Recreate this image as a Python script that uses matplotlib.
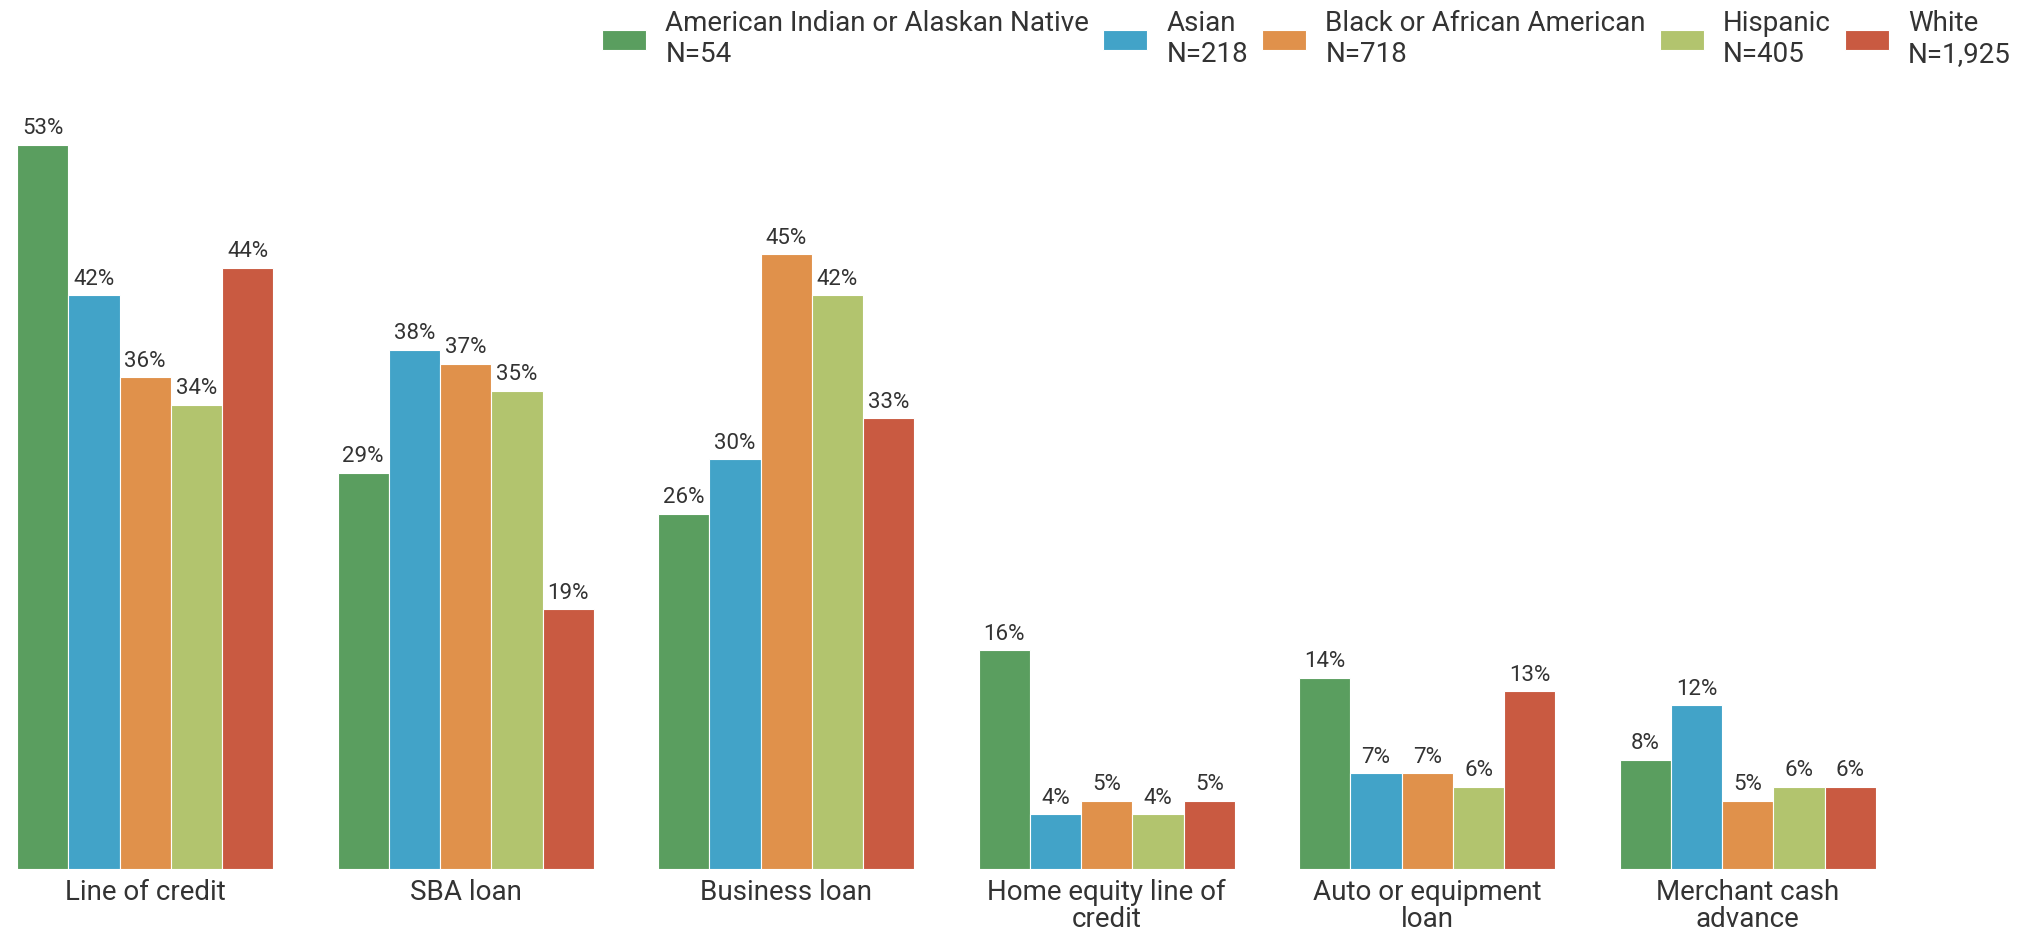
import numpy as np
import matplotlib
matplotlib.use("Agg")
import matplotlib.pyplot as plt

categories = ["Line of credit", "SBA loan", "Business loan",
              "Home equity line of\ncredit", "Auto or equipment\nloan",
              "Merchant cash\nadvance"]
groups = ["American Indian or Alaskan Native\nN=54", "Asian\nN=218",
          "Black or African American\nN=718", "Hispanic\nN=405",
          "White\nN=1,925"]
values = [
    [53, 29, 26, 16, 14, 8],   # American Indian or Alaskan Native
    [42, 38, 30, 4, 7, 12],    # Asian
    [36, 37, 45, 5, 7, 5],     # Black or African American
    [34, 35, 42, 4, 6, 6],     # Hispanic
    [44, 19, 33, 5, 13, 6],    # White
]
colors = ["#5a9e5f", "#42a3c8", "#e0914b", "#b2c46e", "#c95a41"]

plt.rcParams['font.family'] = ['Roboto', 'DejaVu Sans']
text_color = "#333333"

fig = plt.figure(figsize=(20.36, 9.34), dpi=100)
ax = fig.add_axes([17 / 2036, 65 / 934, 1859 / 2036, 724 / 934])

x = np.arange(len(categories))
w = 0.16
for i, (g, vals, c) in enumerate(zip(groups, values, colors)):
    bars = ax.bar(x + (i - 2) * w, vals, w, color=c, edgecolor="white",
                  linewidth=0.8, label=g)
    ax.bar_label(bars, labels=[f"{v}%" for v in vals], padding=4,
                 fontsize=16, color=text_color)

ax.set_xlim(-0.4, 5.4)
ax.set_ylim(0, 53)
ax.set_xticks(x)
ax.set_xticklabels(categories, fontsize=20, color=text_color,
                   linespacing=1.0)
ax.tick_params(axis="x", length=0, pad=7)
ax.set_yticks([])
for s in ax.spines.values():
    s.set_visible(False)

fig.legend(loc="upper right", bbox_to_anchor=(1.0, 1.016), ncol=5,
           frameon=False, fontsize=20, handlelength=1.58, handleheight=0.72,
           handletextpad=0.7, columnspacing=0.5, labelcolor=text_color,
           labelspacing=0.3)

fig.savefig("out.png", dpi=100)
